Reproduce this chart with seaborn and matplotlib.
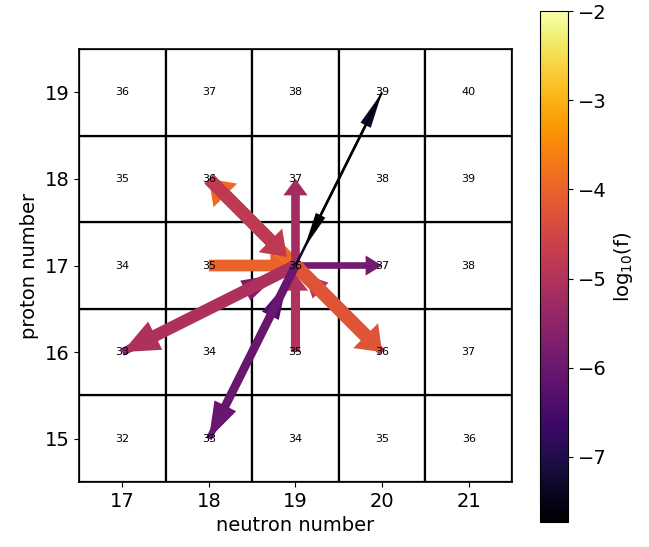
import numpy as np
import matplotlib
matplotlib.use("Agg")
import matplotlib.pyplot as plt
import matplotlib.patches as mpatches
import seaborn as sns

sns.set_style("ticks")
plt.rcParams['font.family'] = ['DejaVu Sans']
for key in ['text.color', 'axes.labelcolor', 'xtick.color', 'ytick.color', 'axes.edgecolor']:
    plt.rcParams[key] = 'black'

# ---------------- data ----------------
neutrons = [17, 18, 19, 20, 21]
protons = [15, 16, 17, 18, 19]
# mass numbers shown in each cell, rows = protons (15..19), cols = neutrons (17..21)
mass_labels = [
    [32, 33, 34, 35, 36],
    [33, 34, 35, 36, 37],
    [34, 35, 36, 37, 38],
    [35, 36, 37, 38, 39],
    [36, 37, 38, 39, 40],
]
centre_n, centre_z = 19, 17

# flows in drawing order (source -> destination)
flow_src_n = [17, 18, 20, 18, 19, 19, 18, 19, 19, 19, 19, 19, 19, 20]
flow_src_z = [16, 15, 16, 17, 16, 17, 18, 17, 17, 17, 17, 17, 17, 19]
flow_dst_n = [19, 19, 19, 19, 19, 18, 19, 19, 20, 17, 20, 18, 20, 19]
flow_dst_z = [17, 17, 17, 17, 17, 18, 17, 18, 17, 16, 16, 15, 19, 17]
log_f = [-5.75, -6.35, -4.9, -4.0, -5.0, -3.9, -4.8, -5.2, -5.85, -5.05, -4.25, -6.05, -7.3, -7.73]
flow_width = [0.09, 0.07, 0.09, 0.135, 0.105, 0.15, 0.15, 0.1, 0.077, 0.14, 0.16, 0.1, 0.03, 0.025]

vmin, vmax = -7.73, -2.0

# ---------------- figure ----------------
fig = plt.figure(figsize=(6.49, 5.47), dpi=100)
ax = fig.add_axes([0.1217, 0.1188, 0.6672, 0.7916])
cax = fig.add_axes([0.832, 0.0457, 0.043, 0.934])

cmap = sns.color_palette("inferno", as_cmap=True)
norm = matplotlib.colors.Normalize(vmin=vmin, vmax=vmax)

for i, z in enumerate(protons):
    for j, n in enumerate(neutrons):
        ax.add_patch(mpatches.Rectangle((n - 0.5, z - 0.5), 1, 1, facecolor='white',
                                        edgecolor='black', lw=1.6, zorder=1))
        ax.text(n, z, str(mass_labels[i][j]), ha='center', va='center',
                fontsize=8, color='black', zorder=10)

for sn, sz, dn, dz, v, w in zip(flow_src_n, flow_src_z, flow_dst_n, flow_dst_z, log_f, flow_width):
    dx, dy = dn - sn, dz - sz
    frac = 0.9 if (dn == centre_n and dz == centre_z) else 1.0
    dx, dy = dx * frac, dy * frac
    L = np.hypot(dx, dy)
    ax.arrow(sn, sz, dx, dy, width=w, head_width=2.1 * w + 0.07, head_length=0.19 * L / frac,
             length_includes_head=True, facecolor=cmap(norm(v)), edgecolor='none',
             lw=0, zorder=3)

ax.set_xlim(16.5, 21.5)
ax.set_ylim(14.5, 19.5)
ax.set_xticks(neutrons)
ax.set_yticks(protons)
ax.tick_params(labelsize=14, length=3.5, width=0.8, direction='out', colors='black')
ax.set_xlabel("neutron number", fontsize=14, color='black')
ax.set_ylabel("proton number", fontsize=14, color='black')
for s in ax.spines.values():
    s.set_linewidth(1.2)
    s.set_color('black')

sm = matplotlib.cm.ScalarMappable(norm=norm, cmap=cmap)
cb = fig.colorbar(sm, cax=cax)
cb.set_ticks([-2, -3, -4, -5, -6, -7])
cb.ax.tick_params(labelsize=14, length=3.5, width=0.8, colors='black')
cb.set_label("log$_{10}$(f)", fontsize=14, color='black')
cb.outline.set_linewidth(0.8)
cb.outline.set_edgecolor('black')

fig.savefig("out.png", dpi=100)
